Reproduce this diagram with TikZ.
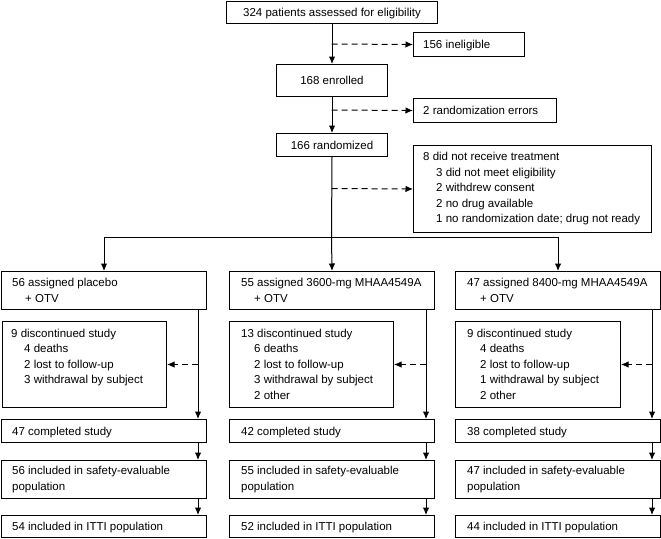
\documentclass[tikz,border=0pt]{standalone}
\usepackage{fontspec}
\setmainfont{Liberation Sans}
\usetikzlibrary{arrows.meta,calc}
\newcommand\subind{\hspace*{13pt}}
\begin{document}
\begin{tikzpicture}[x=1pt,y=-1pt,
  box/.style={draw, line width=1pt, rectangle, inner sep=0pt, anchor=north west},
  txt/.style={inner sep=0pt, align=left, font=\fontsize{11.5}{15.5}\selectfont},
  txt1/.style={txt, text height=8.3pt, text depth=0pt},
  arr/.style={line width=1pt, -{Latex[length=7.5pt,width=6.5pt]}},
  darr/.style={arr, dash pattern=on 6pt off 4pt},
  ln/.style={line width=1pt}]
\useasboundingbox (0,0) rectangle (661,538);

% top part
\node[box, minimum width=211pt, minimum height=22pt] (top) at (226,1) {};
\node[txt1] (topt) at (top.center) {324 patients assessed for eligibility};
\node[box, minimum width=111pt, minimum height=24pt] (inel) at (413,32) {};
\node[txt1, anchor=west] (inelt) at ($(inel.west)+(10,0)$) {156 ineligible};
\node[box, minimum width=111pt, minimum height=32pt] (enr) at (276,64) {};
\node[txt1] (enrt) at (enr.center) {168 enrolled};
\node[box, minimum width=143pt, minimum height=24pt] (rerr) at (413,98) {};
\node[txt1, anchor=west] (rerrt) at ($(rerr.west)+(10,0)$) {2 randomization errors};
\node[box, minimum width=111pt, minimum height=23pt] (rand) at (276,133) {};
\node[txt1] (randt) at (rand.center) {166 randomized};
\node[box, minimum width=238pt, minimum height=87pt] (nrec) at (413,145) {};
\node[txt, anchor=west] (nrect) at ($(nrec.west)+(10,0)$) {8 did not receive treatment\\
\subind 3 did not meet eligibility\\
\subind 2 withdrew consent\\
\subind 2 no drug available\\
\subind 1 no randomization date; drug not ready};

\coordinate (c1) at (331.5,44);
\coordinate (c2) at (331.5,110);
\coordinate (c3) at (331.5,188.5);
\coordinate (j) at (331.5,237);
\draw[arr] (top.south) -- (enr.north);
\draw[darr] (c1) -- (inel.west);
\draw[arr] (enr.south) -- (rand.north);
\draw[darr] (c2) -- (rerr.west);
\draw[darr] (c3) -- (nrec.west);
\draw[ln] (rand.south) -- (j);

% assigned
\node[box, minimum width=205pt, minimum height=38pt] (a1) at (1,271) {};
\node[box, minimum width=205pt, minimum height=38pt] (a2) at (229,271) {};
\node[box, minimum width=205pt, minimum height=38pt] (a3) at (455,271) {};
\node[txt, anchor=west] (a1t) at ($(a1.west)+(11,0)$) {56 assigned placebo\\\subind + OTV};
\node[txt, anchor=west] (a2t) at ($(a2.west)+(12,0)$) {55 assigned 3600-mg MHAA4549A\\\subind + OTV};
\node[txt, anchor=west] (a3t) at ($(a3.west)+(12,0)$) {47 assigned 8400-mg MHAA4549A\\\subind + OTV};
\draw[arr] (j) -- (a2.north);
\draw[arr] (j) -| (a1.north);
\draw[arr] (j) -| (a3.north);

% discontinued
\node[box, minimum width=164pt, minimum height=86pt] (d1) at (2,321) {};
\node[box, minimum width=164pt, minimum height=86pt] (d2) at (229,321) {};
\node[box, minimum width=165pt, minimum height=86pt] (d3) at (455,321) {};
\node[txt, anchor=north west] (d1t) at ($(d1.north west)+(9,7.5)$) {9 discontinued study\\
\subind 4 deaths\\ \subind 2 lost to follow-up\\ \subind 3 withdrawal by subject};
\node[txt, anchor=north west] (d2t) at ($(d2.north west)+(12,7.5)$) {13 discontinued study\\
\subind 6 deaths\\ \subind 2 lost to follow-up\\ \subind 3 withdrawal by subject\\ \subind 2 other};
\node[txt, anchor=north west] (d3t) at ($(d3.north west)+(12,7.5)$) {9 discontinued study\\
\subind 4 deaths\\ \subind 2 lost to follow-up\\ \subind 1 withdrawal by subject\\ \subind 2 other};

% completed
\node[box, minimum width=205pt, minimum height=23pt] (k1) at (1,419) {};
\node[box, minimum width=205pt, minimum height=23pt] (k2) at (229,419) {};
\node[box, minimum width=205pt, minimum height=23pt] (k3) at (455,419) {};
\node[txt1, anchor=west] (k1t) at ($(k1.west)+(11,0)$) {47 completed study};
\node[txt1, anchor=west] (k2t) at ($(k2.west)+(12,0)$) {42 completed study};
\node[txt1, anchor=west] (k3t) at ($(k3.west)+(12,0)$) {38 completed study};

% safety
\node[box, minimum width=205pt, minimum height=38pt] (s1) at (1,460) {};
\node[box, minimum width=205pt, minimum height=38pt] (s2) at (229,460) {};
\node[box, minimum width=205pt, minimum height=38pt] (s3) at (455,460) {};
\node[txt, anchor=west] (s1t) at ($(s1.west)+(11,0)$) {56 included in safety-evaluable\\population};
\node[txt, anchor=west] (s2t) at ($(s2.west)+(12,0)$) {55 included in safety-evaluable\\population};
\node[txt, anchor=west] (s3t) at ($(s3.west)+(12,0)$) {47 included in safety-evaluable\\population};

% ITTI
\node[box, minimum width=205pt, minimum height=22pt] (t1) at (1,515) {};
\node[box, minimum width=205pt, minimum height=22pt] (t2) at (229,515) {};
\node[box, minimum width=205pt, minimum height=22pt] (t3) at (455,515) {};
\node[txt1, anchor=west] (t1t) at ($(t1.west)+(11,0)$) {54 included in ITTI population};
\node[txt1, anchor=west] (t2t) at ($(t2.west)+(12,0)$) {52 included in ITTI population};
\node[txt1, anchor=west] (t3t) at ($(t3.west)+(12,0)$) {44 included in ITTI population};

% column connectors
\foreach \c in {1,2,3}{
  \coordinate (v\c) at ([xshift=-9pt]a\c.south east);
  \draw[arr] (v\c) -- ([xshift=-9pt]k\c.north east);
  \draw[darr] (v\c |- d\c.east) -- (d\c.east);
  \draw[arr] ([xshift=-9pt]k\c.south east) -- ([xshift=-9pt]s\c.north east);
  \draw[arr] ([xshift=-9pt]s\c.south east) -- ([xshift=-9pt]t\c.north east);
}
\end{tikzpicture}
\end{document}
